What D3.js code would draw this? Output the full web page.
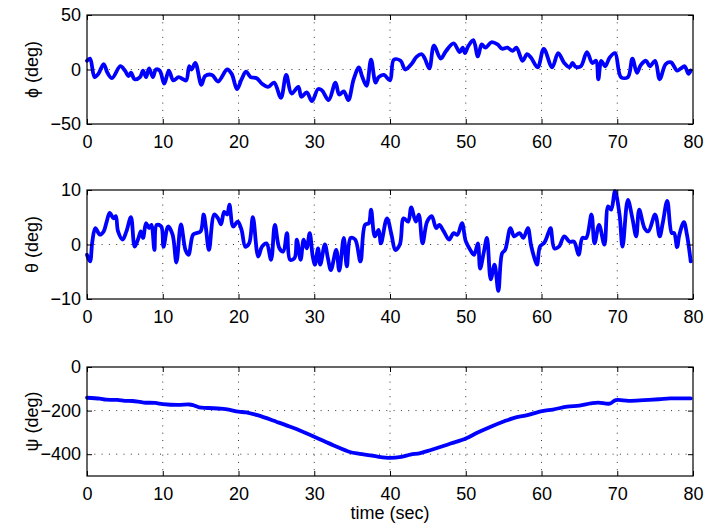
<!DOCTYPE html>
<html>
<head>
<meta charset="utf-8">
<script src="https://cdn.jsdelivr.net/npm/d3@7"></script>
<style>
  html, body { margin: 0; padding: 0; background: #fff; }
  svg { display: block; font-family: "Liberation Sans", Arial, Helvetica, sans-serif; }
  .tick text { font-size: 18px; fill: #000; }
  .lbl { font-size: 18px; fill: #000; }
</style>
</head>
<body>
<div id="chart"></div>
<script>
// 三个姿态角随时间变化：[time(sec), deg]
const phiSeries = [
  [0, 8], [0.4, 10], [1.0, -7], [1.5, -4], [2.2, 5], [2.7, -3], [3.3, -8], [4.4, 3], [5.0, -1],
  [5.5, -6], [5.8, -3], [6.3, -9], [7.0, -7], [7.4, -1], [7.8, -7], [8.2, 1], [8.7, -7], [9.1, 0],
  [9.6, -1], [10.2, -13], [10.8, -1], [11.4, -10], [12.1, -7], [12.7, -9], [13.1, -10], [13.5, 3],
  [13.8, 0], [14.3, 6], [15.1, -14], [15.6, -6], [16.5, -5], [17.3, -11], [18.5, 0], [19.1, -4],
  [19.8, -18], [20.4, -9], [21.0, -2], [21.6, -7], [22.4, -8], [23.1, -13], [23.9, -16], [24.7, -12],
  [25.6, -26], [26.3, -5], [27.0, -22], [27.9, -16], [28.3, -25], [29.0, -21], [29.7, -29], [30.5, -18],
  [31.0, -19], [31.9, -28], [32.8, -12], [33.3, -23], [33.9, -20], [34.5, -28], [35.2, -9], [35.9, 2],
  [36.3, -6], [36.9, -15], [37.5, 9], [38.1, -12], [38.5, -7], [39.2, -5], [40.0, -10], [40.5, 9],
  [41.4, 8], [42.0, 0], [42.9, 5.5], [43.5, 11.6], [44.2, 14], [44.6, 10], [45.2, 1], [45.8, 22],
  [46.7, 10], [47.4, 17], [48.4, 24], [49.2, 16], [49.6, 20], [49.9, 15], [50.3, 21], [51.0, 27],
  [51.6, 12], [52.1, 23], [52.6, 20], [53.4, 25], [54.2, 23], [54.8, 19], [55.5, 20], [56.2, 17],
  [56.7, 20], [57.5, 8], [58.1, 14], [58.6, 11], [59.5, 2], [60.3, 19], [61.4, 2], [62.2, 15],
  [63.0, 6], [63.7, 2], [64.1, 6], [64.5, 2.5], [65.2, 3], [66.0, 16], [66.7, 6], [67.2, 8],
  [67.5, -9], [67.9, 8], [68.4, 3], [69.0, 11], [69.7, 15], [70.5, -7], [71.4, -7], [72.0, 10],
  [72.6, -3], [73.1, 4], [73.8, 8], [74.3, 3], [75.0, 8], [75.6, -9], [76.4, 5], [77.1, 6.5],
  [77.9, -1], [78.4, 1], [78.9, 3], [79.4, -4], [79.7, -1]
];

const thetaSeries = [
  [0, -1.9], [0.4, -3.1], [0.7, 0.5], [1.1, 3], [1.7, 1.8], [2.2, 2.4], [2.6, 4.2], [3.0, 5.8],
  [3.5, 4.8], [3.8, 5.2], [4.1, 2.4], [4.7, 0.9], [5.2, 2.4], [5.8, 5], [6.3, -0.4], [6.8, 1.2],
  [7.1, 2.4], [7.4, 1.2], [7.8, 3.9], [8.2, 3], [8.5, 3.6], [8.9, -1], [9.2, 3.6], [9.8, 3.3],
  [10.1, -0.4], [10.7, 3.3], [11.3, 1.8], [11.8, -3.3], [12.4, 3.7], [13.0, -1], [13.4, -1.9],
  [14.0, 1.8], [14.5, 2.1], [15.0, 2.4], [15.4, 5.5], [15.7, 3], [16.1, -1], [16.8, 5.5], [17.3, 4.8],
  [17.7, 3.7], [18.1, 6], [18.5, 5.5], [18.8, 7.3], [19.3, 3.3], [19.9, 4.2], [20.4, 2.7], [20.9, -0.4],
  [21.4, 0.2], [21.9, 5], [22.6, -2.2], [23.1, -0.4], [23.7, 0.2], [24.3, -2.8], [24.8, 3.6],
  [25.4, -0.7], [25.9, -1.3], [26.4, 2.1], [26.8, -2.8], [27.4, -2.5], [27.7, 0.9], [28.2, -2.8],
  [28.6, 0.9], [29.0, -0.7], [29.4, 2.1], [29.8, -2.2], [30.1, -3.7], [30.5, -0.7], [30.8, -3.7],
  [31.4, 0], [31.8, -2.5], [32.2, -4.7], [32.9, -1], [33.3, -4.8], [33.9, 1.2], [34.3, -4], [34.8, 1.2],
  [35.4, 0.9], [36.1, -3.1], [36.7, 3.6], [37.2, 3.9], [37.5, 6.4], [38.0, 1.5], [38.5, 2.7],
  [38.8, 0.2], [39.6, 4.8], [40.2, 1.8], [40.7, -1], [41.3, 0], [41.8, 4.8], [42.4, 4.2], [42.8, 6.8],
  [43.4, 4.2], [43.8, 5.5], [44.3, 0.2], [44.9, 4.2], [45.5, 5.2], [46.1, 3], [46.5, 3.6], [47.1, 2.4],
  [47.8, 0.9], [48.4, 2.1], [48.9, 1.8], [49.5, 3.9], [50.0, 0.6], [50.6, -1], [51.1, -1.9], [51.6, 0.2],
  [51.9, -4.4], [52.4, -1.3], [52.8, 1.2], [53.3, -6.4], [53.8, -3.7], [54.3, -8.5], [54.8, -1.6],
  [55.2, -1], [55.9, 3], [56.4, 1.5], [57.1, 2.1], [57.6, 1.2], [58.2, 3], [58.6, 0], [59.0, -2.2],
  [59.4, -3.7], [59.8, -0.4], [60.4, 0.4], [60.9, 2.1], [61.2, 3], [61.7, -0.7], [62.3, -0.4],
  [63.0, 1.5], [63.7, 0.5], [64.3, 0.5], [64.9, -1.9], [65.4, 1.2], [65.9, 1.2], [66.6, 5.5],
  [67.0, 0.2], [67.6, 3.6], [68.3, 0], [68.8, 7], [69.2, 6.4], [69.7, 9.8], [70.3, 5.5], [70.7, -0.4],
  [71.4, 8.2], [72.0, 4.8], [72.5, 1.5], [72.9, 6.4], [73.6, 3], [74.1, 2.4], [75.0, 5.5], [75.6, 1.5],
  [76.0, 3.9], [76.6, 8], [77.2, 2.1], [77.5, 2.1], [77.9, -0.5], [78.2, 1.8], [78.8, 4.1],
  [79.2, 1.8], [79.7, -3.1]
];

const psiSeries = [
  [0, -141], [1.7, -145], [2.5, -150], [4, -151], [5, -155], [6, -156], [7.5, -163], [9, -165],
  [10, -170], [12, -174], [13.5, -172], [14, -175], [14.8, -185], [16, -188], [18.3, -193],
  [20, -205], [21, -208], [22.5, -221], [25, -251], [27.2, -279], [30, -320], [32.5, -359],
  [34.7, -390], [36, -398], [37.4, -405], [38.5, -412], [40, -417], [41.5, -412], [42.7, -402],
  [44, -395], [45.3, -382], [48, -351], [50, -328], [51.5, -302], [53.3, -274], [55, -250],
  [56.4, -233], [58, -222], [60.1, -202], [61.5, -195], [63.4, -182], [65, -177], [66.5, -167],
  [67.5, -163], [69.0, -168], [69.8, -152], [71.5, -155], [73.5, -152], [75.5, -148], [77, -144],
  [79.7, -144]
];

const timeTicks = [0, 10, 20, 30, 40, 50, 60, 70, 80];

const panels = [
  { data: phiSeries, top: 15, bottom: 124, domain: [-50, 50], ticks: [-50, 0, 50], label: "\u03D5 (deg)" },
  { data: thetaSeries, top: 190, bottom: 299, domain: [-10, 10], ticks: [-10, 0, 10], label: "\u03B8 (deg)" },
  { data: psiSeries, top: 367, bottom: 476, domain: [-500, 0], ticks: [-400, -200, 0], label: "\u03C8 (deg)" }
];

const WIDTH = 709, HEIGHT = 529;
const left = 87, right = 693, TICK = 5;

const svg = d3.select("#chart").append("svg").attr("width", WIDTH).attr("height", HEIGHT);
const x = d3.scaleLinear().domain([0, 80]).range([left, right]);
const fmt = d3.format("");

panels.forEach((p) => {
  const y = d3.scaleLinear().domain(p.domain).range([p.bottom, p.top]);
  const g = svg.append("g");

  // 网格（点线）
  g.selectAll("line.gx").data(timeTicks.filter((t) => t > 0 && t < 80)).join("line")
    .attr("x1", (d) => x(d)).attr("x2", (d) => x(d)).attr("y1", p.top).attr("y2", p.bottom)
    .attr("stroke", "#333").attr("stroke-width", 1).attr("stroke-dasharray", "1 6.3");
  g.selectAll("line.gy").data(p.ticks.filter((v) => v > p.domain[0] && v < p.domain[1])).join("line")
    .attr("x1", left).attr("x2", right).attr("y1", (d) => y(d)).attr("y2", (d) => y(d))
    .attr("stroke", "#333").attr("stroke-width", 1).attr("stroke-dasharray", "1 6.3");

  // 数据线（轻度平滑，接近原图的圆滑抖动）
  const line = d3.line().curve(d3.curveCatmullRom.alpha(0.5)).x((d) => x(d[0])).y((d) => y(d[1]));
  g.append("path").datum(p.data).attr("fill", "none").attr("stroke", "#0000ff")
    .attr("stroke-width", 3.8).attr("stroke-linejoin", "round").attr("stroke-linecap", "round")
    .attr("d", line);

  // 坐标轴：刻度朝内，四边都有
  const ax = (sel) => sel.select(".domain").remove();
  g.append("g").attr("transform", `translate(0,${p.bottom})`)
    .call(d3.axisBottom(x).tickValues(timeTicks).tickSize(-TICK).tickPadding(11).tickFormat(fmt)).call(ax);
  g.append("g").attr("transform", `translate(0,${p.top})`)
    .call(d3.axisTop(x).tickValues(timeTicks).tickSize(-TICK).tickFormat("")).call(ax);
  g.append("g").attr("transform", `translate(${left},0)`)
    .call(d3.axisLeft(y).tickValues(p.ticks).tickSize(-TICK).tickPadding(6).tickFormat(fmt)).call(ax);
  g.append("g").attr("transform", `translate(${right},0)`)
    .call(d3.axisRight(y).tickValues(p.ticks).tickSize(-TICK).tickFormat("")).call(ax);
  g.selectAll(".tick line").attr("stroke", "#000");
  g.selectAll(".tick text").attr("font-family", null).attr("font-size", null);

  g.append("rect").attr("x", left).attr("y", p.top).attr("width", right - left).attr("height", p.bottom - p.top)
    .attr("fill", "none").attr("stroke", "#000").attr("stroke-width", 1.2);

  g.append("text").attr("class", "lbl").attr("text-anchor", "middle")
    .attr("transform", `translate(38,${(p.top + p.bottom) / 2}) rotate(-90)`).text(p.label);
});

svg.append("text").attr("class", "lbl").attr("text-anchor", "middle")
  .attr("x", x(40)).attr("y", 519).text("time (sec)");
</script>
</body>
</html>
